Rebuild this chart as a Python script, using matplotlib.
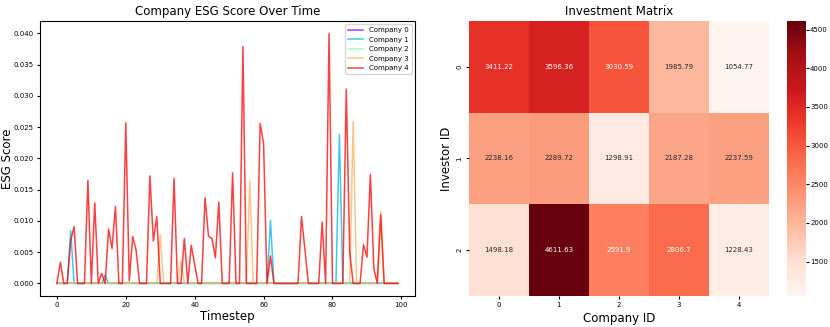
import numpy as np
import matplotlib
matplotlib.use("Agg")
import matplotlib.pyplot as plt
import seaborn as sns

timesteps = np.arange(100)
companies = ["Company 0", "Company 1", "Company 2", "Company 3", "Company 4"]

# sparse ESG scores: {timestep: value}, everything else is 0
esg_c0 = {}
esg_c1 = {4: 0.0084, 14: 0.0013, 62: 0.0101, 82: 0.0238}
esg_c2 = {}
esg_c3 = {30: 0.0078, 36: 0.0036, 56: 0.0164, 86: 0.0259, 94: 0.0115}
esg_c4 = {1: 0.0034, 4: 0.0068, 5: 0.0091, 9: 0.0165, 11: 0.0129, 13: 0.0016,
          15: 0.0087, 16: 0.0056, 17: 0.0123, 20: 0.0257, 21: 0.0004,
          22: 0.0075, 23: 0.0053, 27: 0.0172, 28: 0.0068, 29: 0.0107,
          34: 0.0168, 37: 0.0072, 39: 0.0061, 40: 0.0030, 43: 0.0137,
          44: 0.0076, 45: 0.0072, 46: 0.0041, 47: 0.0130, 51: 0.0177,
          54: 0.0379, 59: 0.0256, 60: 0.0224, 62: 0.0044, 71: 0.0107,
          72: 0.0054, 77: 0.0098, 79: 0.0400, 84: 0.0311, 85: 0.0050,
          89: 0.0062, 90: 0.0042, 91: 0.0174, 92: 0.0024, 94: 0.0110}

investors = ["0", "1", "2"]
company_ids = ["0", "1", "2", "3", "4"]
investment = np.array([
    [3411.22, 3596.36, 3030.59, 1985.79, 1054.77],
    [2238.16, 2289.72, 1298.91, 2187.28, 2237.59],
    [1498.18, 4611.63, 2591.9, 2806.7, 1228.43],
])


def to_series(d):
    s = np.zeros(len(timesteps))
    for k, v in d.items():
        s[k] = v
    return s


fig = plt.figure(figsize=(8.3, 3.27), dpi=100)
ax1 = fig.add_axes([0.048, 0.095, 0.452, 0.841])
ax2 = fig.add_axes([0.565, 0.095, 0.361, 0.841])
cax = fig.add_axes([0.948, 0.095, 0.023, 0.841])

colors = plt.cm.rainbow(np.linspace(0, 1, len(companies)))
for name, d, c in zip(companies, [esg_c0, esg_c1, esg_c2, esg_c3, esg_c4], colors):
    ax1.plot(timesteps, to_series(d), color=c, alpha=0.75, lw=1.1, label=name)
ax1.set_title("Company ESG Score Over Time", fontsize=8.5, pad=4)
ax1.set_xlabel("Timestep", fontsize=8.5, labelpad=1)
ax1.set_ylabel("ESG Score", fontsize=8.5)
ax1.yaxis.set_label_coords(-0.07, 0.5)
ax1.tick_params(labelsize=5, length=2.5, pad=2)
ax1.legend(fontsize=5, loc="upper right", handlelength=2.2)

sns.heatmap(investment, ax=ax2, cbar_ax=cax, cmap="Reds", annot=True, fmt="g",
            annot_kws={"fontsize": 5}, xticklabels=company_ids,
            yticklabels=investors)
ax2.set_title("Investment Matrix", fontsize=8.5, pad=4)
ax2.set_xlabel("Company ID", fontsize=8.5, labelpad=3)
ax2.set_ylabel("Investor ID", fontsize=8.5, labelpad=3)
ax2.tick_params(labelsize=5, length=2.5, pad=2)
plt.setp(ax2.get_yticklabels(), rotation=90, va="center")
cax.tick_params(labelsize=5, length=2, pad=1)

fig.savefig("out.png", dpi=100)
